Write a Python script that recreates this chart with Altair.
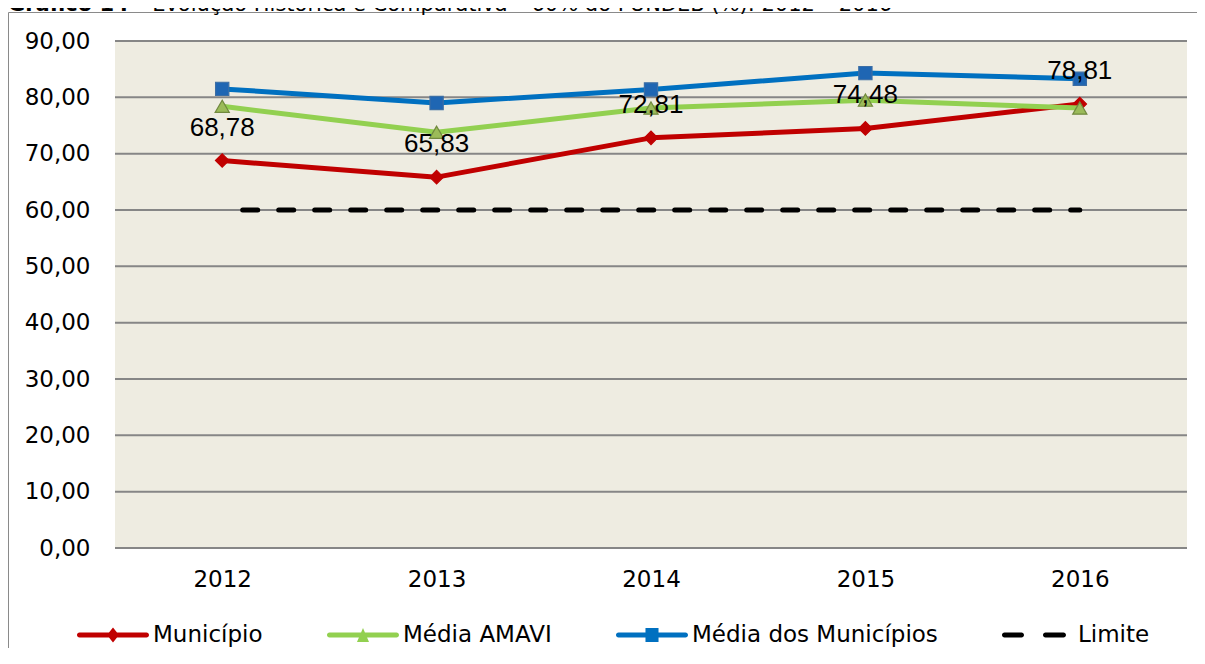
import altair as alt
import pandas as pd

# ---------------- data ----------------
years = ["2012", "2013", "2014", "2015", "2016"]
municipio = [68.78, 65.83, 72.81, 74.48, 78.81]
media_amavi = [78.4, 73.8, 78.1, 79.5, 78.1]
media_municipios = [81.5, 79.0, 81.4, 84.3, 83.3]
limite = [60, 60, 60, 60, 60]

series_names = ["Município", "Média AMAVI", "Média dos Municípios", "Limite"]
series_colors = ["#C00000", "#92D050", "#0070C0", "#000000"]
y_ticks = [0, 10, 20, 30, 40, 50, 60, 70, 80, 90]

title_bold = "Gráfico 14"
title_rest = "– Evolução Histórica e Comparativa – 60% do FUNDEB (%): 2012 – 2016"

rows = []
for name, vals in zip(series_names, [municipio, media_amavi, media_municipios, limite]):
    for yr, v in zip(years, vals):
        rows.append({"ano": yr, "serie": name, "valor": v})
df = pd.DataFrame(rows)
grid_df = pd.DataFrame({"valor": y_ticks})

# ---------------- legend symbols (custom paths, unit box -1..1) ----------------
U = 36.0  # px per unit (sqrt(symbolSize)/2)


def capsule(a_px, b_px, half=2.5):
    a, b, h = a_px / U, b_px / U, half / U
    return (f"M{a:.3f},{-h:.3f}L{b:.3f},{-h:.3f}A{h:.3f},{h:.3f} 0 0 1 {b:.3f},{h:.3f}"
            f"L{a:.3f},{h:.3f}A{h:.3f},{h:.3f} 0 0 1 {a:.3f},{-h:.3f}Z")


def diamond(hw, hh):
    w, h = hw / U, hh / U
    return f"M0,{-h:.3f}L{w:.3f},0L0,{h:.3f}L{-w:.3f},0Z"


def triangle(hw, hh):
    w, h = hw / U, hh / U
    return f"M0,{-h:.3f}L{w:.3f},{h:.3f}L{-w:.3f},{h:.3f}Z"


def square(hw, hh):
    w, h = hw / U, hh / U
    return f"M{-w:.3f},{-h:.3f}L{w:.3f},{-h:.3f}L{w:.3f},{h:.3f}L{-w:.3f},{h:.3f}Z"


legend_paths = [
    capsule(-33.5, 33.5) + diamond(6, 7.5),
    capsule(-33.5, 33.5) + triangle(6, 7),
    capsule(-33.5, 33.5) + square(6.5, 7),
    capsule(-33.5, -16.5) + capsule(7.5, 25.5),
]

FONT = "DejaVu Sans"

x_enc = alt.X(
    "ano:O",
    scale=alt.Scale(type="point", padding=0.5),
    axis=alt.Axis(title=None, labelAngle=0, domain=False, ticks=False, grid=False,
                  labelFont=FONT, labelFontSize=23, labelColor="#000000", labelPadding=20),
)
y_enc = alt.Y(
    "valor:Q",
    scale=alt.Scale(domain=[0, 90], nice=False),
    axis=alt.Axis(title=None, values=y_ticks, domain=False, ticks=False, grid=False,
                  labelExpr="replace(format(datum.value, '.2f'), '.', ',')",
                  labelFont=FONT, labelFontSize=23, labelColor="#000000", labelPadding=25),
)

base = alt.Chart(df)
one = alt.Data(values=[{"k": 1}])

# frame around the whole figure
frame = alt.Chart(one).mark_rect(
    fillOpacity=0, stroke="#8A8A8A", strokeWidth=1
).encode(x=alt.value(-106.5), x2=alt.value(1300), y=alt.value(-28.5), y2=alt.value(900))

# plot-area background
plot_bg = alt.Chart(one).mark_rect(color="#EEECE1").encode(
    x=alt.value(0), x2=alt.value("width"), y=alt.value(0), y2=alt.value("height")
)

# horizontal gridlines
grid = alt.Chart(grid_df).mark_rule(color="#868686", strokeWidth=2).encode(
    y=y_enc, x=alt.value(0), x2=alt.value("width")
)

# (cut-off) title
t1 = alt.Chart(one).mark_text(
    align="left", baseline="alphabetic", font=FONT, fontSize=21, fontWeight="bold", color="#000000"
).encode(x=alt.value(-107), y=alt.value(-30.5), text=alt.value(title_bold))
t2 = alt.Chart(one).mark_text(
    align="left", baseline="alphabetic", font=FONT, fontSize=21, color="#000000"
).encode(x=alt.value(20), y=alt.value(-30.5), text=alt.value(title_rest))

marker_specs = {
    "Município": dict(shape="diamond", fill="#C00000", stroke="#C00000", size=180),
    "Média AMAVI": dict(shape="triangle-up", fill="#9BBB59", stroke="#71893F", size=200),
    "Média dos Municípios": dict(shape="square", fill="#1F66B3", stroke="#3B6EA5", size=175),
}

layers = [frame, plot_bg, grid]
for name, color in zip(series_names[:3], series_colors[:3]):
    sub = base.transform_filter(alt.datum.serie == name)
    layers.append(sub.mark_line(color=color, strokeWidth=5, strokeJoin="round").encode(x=x_enc, y=y_enc))
    m = marker_specs[name]
    layers.append(sub.mark_point(shape=m["shape"], filled=True, fill=m["fill"], stroke=m["stroke"],
                                 strokeWidth=1.2, size=m["size"], opacity=1).encode(x=x_enc, y=y_enc))

lim = base.transform_filter(alt.datum.serie == "Limite").mark_line(
    color="#000000", strokeWidth=5, strokeDash=[15, 21], strokeDashOffset=15.5, strokeCap="round"
).encode(x=x_enc, y=y_enc)
layers.append(lim)

labels = base.transform_filter(alt.datum.serie == "Município").transform_calculate(
    rotulo="replace(format(datum.valor, '.2f'), '.', ',')"
).mark_text(font="Liberation Sans", fontSize=26, color="#000000", baseline="middle", dy=-33).encode(
    x=x_enc, y=y_enc, text="rotulo:N"
)
layers.append(labels)

leg = alt.Legend(
    title=None, orient="none", direction="horizontal", columns=4,
    legendX=-44, legendY=558, padding=0,
    symbolSize=5184, symbolStrokeWidth=0, symbolOffset=6, columnPadding=58,
    labelFont=FONT, labelFontSize=23, labelColor="#000000", labelLimit=400,
)
legend_carrier = base.transform_filter("false").mark_point(filled=True, opacity=1).encode(
    color=alt.Color("serie:N", scale=alt.Scale(domain=series_names, range=series_colors), legend=leg),
    shape=alt.Shape("serie:N", scale=alt.Scale(domain=series_names, range=legend_paths), legend=leg),
)
layers.append(legend_carrier)
layers += [t1, t2]

chart = alt.layer(*layers).properties(
    width=1072, height=507,
    autosize=alt.AutoSizeParams(type="none"),
    padding={"left": 107, "top": 33, "right": 10, "bottom": 100},
    background="#FFFFFF",
).configure_view(stroke=None)

chart.save("out.html", embed_options={"renderer": "svg", "actions": False})
